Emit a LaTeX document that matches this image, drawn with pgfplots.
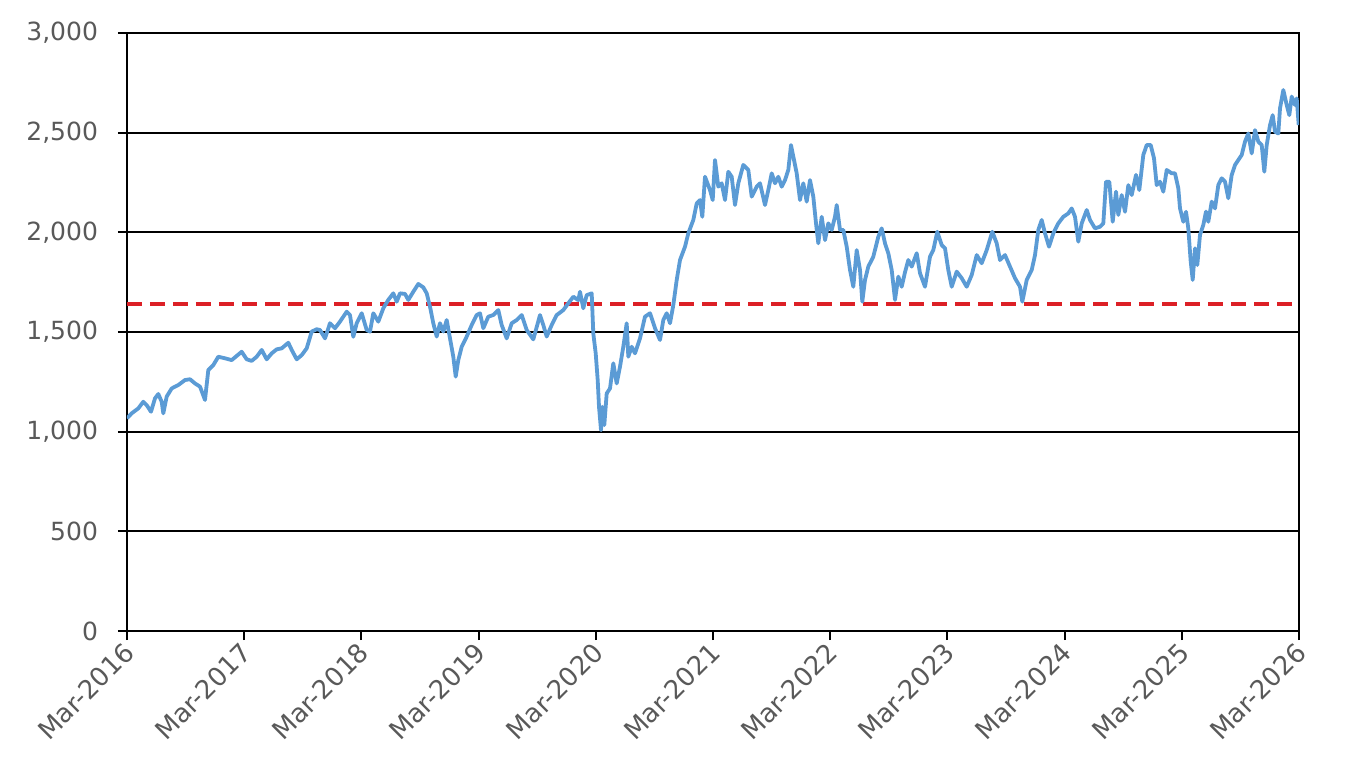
\documentclass[border=0pt]{standalone}
\usepackage{pgfplots}
\pgfplotsset{compat=1.18}
\usepackage{fontspec}
\setmainfont{DejaVu Sans}
\definecolor{lblue}{HTML}{5B9BD5}
\definecolor{dred}{RGB}{220,32,38}
\definecolor{tgray}{HTML}{595959}
\begin{document}
\begin{tikzpicture}
\begin{axis}[
  name=ax,
  scale only axis,
  width=586pt, height=299pt,
  xmin=127, xmax=1299,
  ymin=0, ymax=3000,
  axis line style={black, line width=1pt},
  xtick={127,244.2,361.4,478.6,595.8,713,830.2,947.4,1064.6,1181.8,1299},
  xticklabels={Mar-2016,Mar-2017,Mar-2018,Mar-2019,Mar-2020,Mar-2021,Mar-2022,Mar-2023,Mar-2024,Mar-2025,Mar-2026},
  ytick={0,500,1000,1500,2000,2500,3000},
  ymajorgrids,
  major grid style={black, line width=1pt},
  tick pos=left,
  tick align=outside,
  major tick length=4.5pt,
  tick style={black, line width=1pt},
  tick label style={font=\fontsize{12.5}{14}\selectfont, text=tgray},
  xticklabel style={font=\fontsize{13}{15}\selectfont, xshift=2pt, yshift=-3pt, rotate=45, anchor=east, inner sep=1pt},
  yticklabel style={/pgf/number format/1000 sep={,}, /pgf/number format/assume math mode=true, xshift=-6.5pt},
  scaled y ticks=false,
]
\addplot[dred, line width=2pt, dash pattern=on 7.5pt off 4pt] coordinates {(127,1640) (1299,1640)};
\addplot[lblue, line width=1.9pt, line join=round] coordinates {
(127,1067) (131.7,1092) (138.3,1117) (143.3,1150) (146.7,1133) (151,1100) (155,1167) (158.3,1189)
(161.7,1150) (163.3,1092) (166.7,1176) (171.7,1217) (178.3,1234) (185,1259) (190,1263) (195,1242)
(200,1226) (205,1159) (208.3,1309) (213.3,1334) (218.3,1376) (225,1368) (231.7,1359) (236.7,1380)
(241.7,1401) (246.7,1363) (251.7,1355) (256.7,1376) (261.7,1410) (266.7,1363) (271.7,1393) (276.7,1413)
(281.7,1418) (288.3,1446) (291.7,1410) (296.7,1363) (301.7,1384) (306.7,1418) (311.7,1502) (316.7,1514)
(320,1510) (325,1468) (330,1544) (335,1519) (340,1552) (346.7,1602) (350,1585) (353.3,1476)
(356.7,1544) (361.7,1594) (366.7,1510) (370,1502) (373.3,1594) (378.3,1552) (383.3,1619) (388.3,1661)
(393.3,1694) (396.7,1652) (400,1694) (405,1691) (408.3,1661) (413.3,1702) (418.3,1741) (423.3,1724)
(426.7,1694) (430,1627) (433.3,1544) (436.7,1477) (440,1544) (443.3,1502) (446.7,1560) (450,1468)
(453.3,1376) (455.7,1276) (458.3,1359) (461.7,1426) (466.7,1477) (471.7,1535) (476.7,1585) (480,1594)
(483.3,1519) (488.3,1577) (493.3,1585) (498.3,1610) (501.7,1535) (506.7,1468) (511.7,1544) (516.7,1560)
(521.7,1585) (526.7,1510) (533.3,1463) (540,1585) (543.3,1535) (546.7,1477) (551.7,1535) (556.7,1585)
(563.3,1610) (568.3,1644) (573.3,1677) (578.3,1660) (580,1702) (583.3,1619) (586.7,1685) (591.7,1694)
(593.3,1493) (595.7,1393) (597.7,1259) (599,1125) (601,1008) (602.3,1125) (604.3,1033) (606.7,1192)
(610,1217) (613.3,1343) (616.7,1242) (620,1326) (623.3,1426) (626.7,1544) (628.3,1376) (631.7,1426)
(635,1393) (640,1468) (645,1577) (650,1594) (655,1519) (660,1460) (663.3,1560) (666.7,1594)
(670,1544) (673.3,1635) (676.7,1761) (680,1861) (685,1928) (688.3,1995) (693.3,2062) (696.7,2145)
(700,2162) (702.3,2078) (705,2279) (710,2212) (712.7,2162) (715,2363) (718.3,2229) (721.7,2246)
(725,2162) (728.3,2304) (731.7,2279) (735,2137) (738.3,2246) (743.3,2338) (748.3,2313) (751.7,2179)
(756.7,2229) (760,2246) (765,2137) (768.3,2212) (771.7,2296) (775,2246) (778.3,2279) (781.7,2229)
(785,2262) (788.3,2313) (791,2438) (794,2363) (796.7,2296) (800,2162) (803.3,2246) (806.7,2154)
(810,2262) (813.3,2179) (816,2045) (818.3,1945) (821.7,2078) (825,1961) (828.3,2045) (831.7,2012)
(835,2078) (836.7,2137) (840,2012) (843.3,2012) (846.7,1928) (850,1811) (853.3,1727) (856.7,1911)
(860,1811) (862.3,1652) (865,1761) (868.3,1828) (873.3,1878) (878.3,1978) (881.7,2020) (885,1945)
(888.3,1895) (891.7,1811) (895,1661) (898.3,1778) (901.7,1727) (905,1800) (908.3,1861) (911.7,1828)
(916.7,1895) (920,1795) (925,1727) (930,1878) (933.3,1911) (937.3,2003) (941.7,1936) (945,1920)
(948.3,1811) (951.7,1727) (956.7,1803) (961.7,1770) (966.7,1727) (971.7,1786) (976.7,1886) (981.7,1845)
(986.7,1911) (992.3,2003) (996.7,1945) (1000,1861) (1005,1886) (1010,1828) (1015,1770) (1020,1727)
(1022.3,1652) (1026.7,1761) (1031.7,1811) (1035,1886) (1038.3,2012) (1041.7,2062) (1045,1995) (1049,1928)
(1053.3,1995) (1058.3,2045) (1063.3,2078) (1068.3,2095) (1071.7,2120) (1075,2078) (1078.3,1953) (1081.7,2045)
(1086.7,2112) (1090,2062) (1095,2020) (1100,2028) (1103.3,2045) (1106,2254) (1109.3,2254) (1112.7,2053)
(1116,2204) (1118.3,2087) (1121.7,2187) (1125,2103) (1128.3,2237) (1131.7,2187) (1136,2288) (1139.3,2212)
(1143.3,2388) (1146.7,2438) (1150.7,2438) (1154,2371) (1156.7,2237) (1160,2254) (1163.3,2204) (1166.7,2313)
(1171.7,2296) (1175,2296) (1178.3,2221) (1180,2120) (1183.3,2053) (1186,2103) (1188.3,2020) (1190.7,1853)
(1192.7,1761) (1195,1920) (1197.3,1836) (1200,1987) (1203.3,2037) (1206,2104) (1208.3,2053) (1211.7,2154)
(1215,2120) (1218.3,2237) (1221.7,2271) (1225,2254) (1228.3,2171) (1231.7,2288) (1235,2338) (1238.3,2363)
(1241.7,2388) (1245,2455) (1248.3,2496) (1251.7,2396) (1255,2513) (1258.3,2455) (1261.7,2438) (1264.3,2304)
(1266.7,2438) (1270,2538) (1272.7,2588) (1275,2505) (1278.3,2496) (1280,2622) (1283.3,2714) (1286.7,2639)
(1289.3,2588) (1291.7,2681) (1295,2639) (1296.7,2672) (1298.7,2538)
};
\end{axis}
\pgfresetboundingbox
\path[use as bounding box] ([shift={(-63.5pt,-67.5pt)}]ax.south west) rectangle ([shift={(32.5pt,16.5pt)}]ax.north east);
\end{tikzpicture}
\end{document}
